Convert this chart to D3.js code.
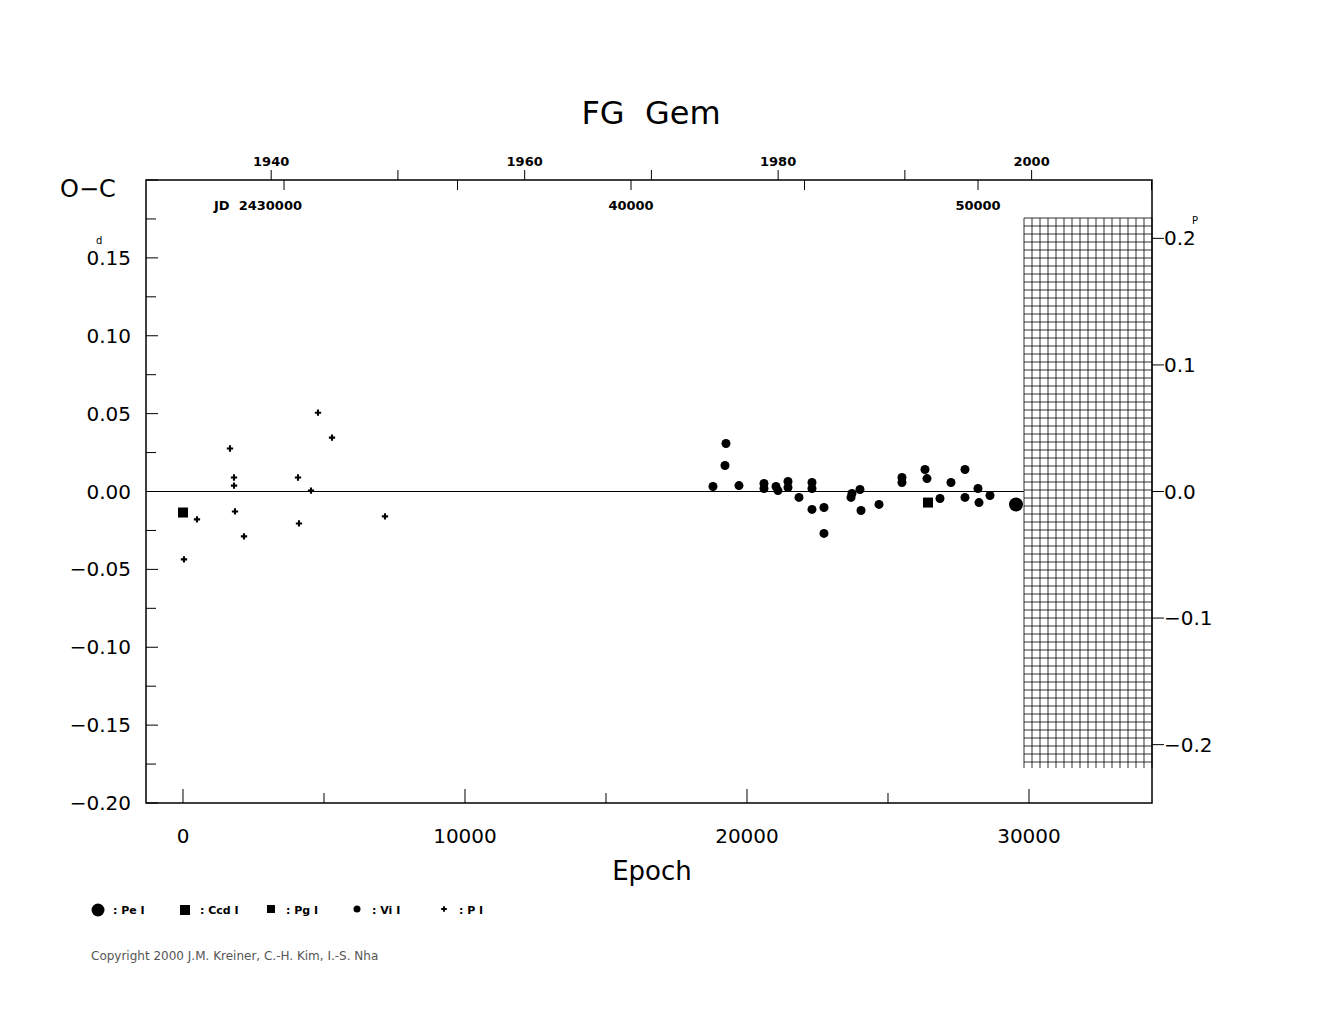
<!DOCTYPE html>
<html>
<head>
<meta charset="utf-8">
<script src="https://cdn.jsdelivr.net/npm/d3@7"></script>
<style>
  body { margin: 0; background: #fff; }
  text { font-family: "DejaVu Sans", sans-serif; fill: #000; }
</style>
</head>
<body>
<svg id="chart" width="1325" height="1020"></svg>
<script>
// O-C data for FG Gem: [epoch, O-C in days]
const plusP = [
  [4787, 0.0506], [5284, 0.0346], [1667, 0.0276], [1809, 0.0090], [1809, 0.0038],
  [4078, 0.0090], [4539, 0.0006], [1844, -0.0128], [496, -0.0179], [4113, -0.0205],
  [2163, -0.0288], [35, -0.0436], [7163, -0.0160]
];
const visual = [
  [18794, 0.0032], [19255, 0.0308], [19220, 0.0167], [19716, 0.0038],
  [20603, 0.0051], [20603, 0.0019], [21028, 0.0032], [21099, 0.0006],
  [21454, 0.0064], [21454, 0.0026], [21844, -0.0038], [22305, 0.0058],
  [22305, 0.0019], [22305, -0.0115], [22730, -0.0103], [22730, -0.0269],
  [23688, -0.0038], [23723, -0.0013], [24007, 0.0013], [24043, -0.0122],
  [24681, -0.0083], [25496, 0.0090], [25496, 0.0058], [26312, 0.0141],
  [26383, 0.0083], [26844, -0.0045], [27234, 0.0058], [27730, 0.0141],
  [27730, -0.0038], [28191, 0.0019], [28227, -0.0071], [28617, -0.0026]
];
const ccd = [[0, -0.0135], [26418, -0.0071]];
const pe = [[29539, -0.0083]];

const period = 0.8127;
const t0 = 27088;           // JD 2427088 (short form)
const yearTicks = [1940, 1950, 1960, 1970, 1980, 1990, 2000];
const yearLabels = [1940, 1960, 1980, 2000];
const jdTicks = [30000, 35000, 40000, 45000, 50000, 55000];
const legendItems = ["Pe I", "Ccd I", "Pg I", "Vi I", "P I"];

const svg = d3.select("#chart");
const L = 146, R = 1152, T = 180, B = 803;

const x = d3.scaleLinear().domain([-1312, 34362]).range([L, R]);
const y = d3.scaleLinear().domain([-0.2, 0.2]).range([B, T]);
const yPh = d3.scaleLinear().domain([-0.2 / period, 0.2 / period]).range([B, T]);
const jdX = d3.scaleLinear().domain([t0 - 1312 * period, t0 + 34362 * period]).range([L, R]);
// year from JD (JD 2429629.5 = 1940.0)
const yrToJd = yr => 29629.5 + (yr - 1940) * 365.25;

// title
svg.append("text").attr("x", 651).attr("y", 124).attr("text-anchor", "middle")
  .attr("font-size", 32).text("FG\u00a0\u00a0Gem");

// hatched future region
const hatch = svg.append("g");
const hx0 = 1024, hy0 = 218, hy1 = 768;
for (let xx = hx0; xx <= R; xx += 8)
  hatch.append("line").attr("x1", xx).attr("x2", xx).attr("y1", hy0).attr("y2", hy1).attr("stroke", "#000").attr("stroke-width", 0.8);
for (let yy = hy0; yy <= hy1; yy += 8)
  hatch.append("line").attr("x1", hx0).attr("x2", R).attr("y1", yy).attr("y2", yy).attr("stroke", "#000").attr("stroke-width", 0.8);

// frame
svg.append("rect").attr("x", L).attr("y", T).attr("width", R - L).attr("height", B - T)
  .attr("fill", "none").attr("stroke", "#000").attr("stroke-width", 1.5);

// zero line
svg.append("line").attr("x1", L).attr("x2", hx0).attr("y1", y(0)).attr("y2", y(0)).attr("stroke", "#000");

// left axis ticks
d3.range(-0.2, 0.2001, 0.025).forEach(v => {
  const major = Math.abs(Math.round(v * 1000) % 50) === 0;
  svg.append("line").attr("x1", L).attr("x2", L + (major ? 12 : 10))
    .attr("y1", y(v)).attr("y2", y(v)).attr("stroke", "#000");
});
[-0.2, -0.15, -0.1, -0.05, 0, 0.05, 0.1, 0.15].forEach(v => {
  svg.append("text").attr("x", 131).attr("y", y(v) + 7).attr("text-anchor", "end")
    .attr("font-size", 20).text((v < 0 ? "\u2212" : "") + Math.abs(v).toFixed(2));
  if (v === 0.15)
    svg.append("text").attr("x", 96).attr("y", y(v) - 14).attr("font-size", 10).text("d");
});
svg.append("text").attr("x", 60).attr("y", 197).attr("font-size", 24).text("O\u2212C");

// right axis (phase)
[-0.2, -0.1, 0, 0.1, 0.2].forEach(v => {
  svg.append("line").attr("x1", R).attr("x2", R + 12).attr("y1", yPh(v)).attr("y2", yPh(v)).attr("stroke", "#000");
  svg.append("text").attr("x", 1164).attr("y", yPh(v) + 7).attr("font-size", 20)
    .text((v < 0 ? "\u2212" : "") + Math.abs(v).toFixed(1));
});
svg.append("text").attr("x", 1192).attr("y", yPh(0.2) - 14).attr("font-size", 10).text("P");

// bottom axis (epoch)
d3.range(0, 34001, 5000).forEach(v => {
  const major = v % 10000 === 0;
  svg.append("line").attr("x1", x(v)).attr("x2", x(v)).attr("y1", B).attr("y2", B - (major ? 14 : 10)).attr("stroke", "#000");
  if (major)
    svg.append("text").attr("x", x(v)).attr("y", 843).attr("text-anchor", "middle").attr("font-size", 20).text(v);
});
svg.append("text").attr("x", 652).attr("y", 880).attr("text-anchor", "middle").attr("font-size", 26).text("Epoch");

// top axis: years above, JD below
yearTicks.forEach(yr => {
  const xx = jdX(yrToJd(yr));
  svg.append("line").attr("x1", xx).attr("x2", xx).attr("y1", T).attr("y2", T - 10).attr("stroke", "#000");
});
yearLabels.forEach(yr => {
  svg.append("text").attr("x", jdX(yrToJd(yr))).attr("y", 166).attr("text-anchor", "middle")
    .attr("font-size", 13).attr("font-weight", "bold").text(yr);
});
jdTicks.forEach(j => {
  const xx = jdX(j);
  if (xx > R) return;
  svg.append("line").attr("x1", xx).attr("x2", xx).attr("y1", T).attr("y2", T + 10).attr("stroke", "#000");
});
[[30000, "JD\u00a0\u00a02430000", 258], [40000, "40000", null], [50000, "50000", null]].forEach(([j, s, xo]) => {
  svg.append("text").attr("x", xo !== null ? xo : jdX(j)).attr("y", 210).attr("text-anchor", "middle")
    .attr("font-size", 13).attr("font-weight", "bold").text(s);
});

// data marks
const pts = svg.append("g");
plusP.forEach(([e, v]) => {
  pts.append("path").attr("d", d3.symbol(d3.symbolCross, 22)())
    .attr("transform", `translate(${x(e)},${y(v)})`).attr("fill", "#000");
});
visual.forEach(([e, v]) => {
  pts.append("circle").attr("cx", x(e)).attr("cy", y(v)).attr("r", 4.5).attr("fill", "#000");
});
ccd.forEach(([e, v]) => {
  pts.append("rect").attr("x", x(e) - 5).attr("y", y(v) - 5).attr("width", 10).attr("height", 10).attr("fill", "#000");
});
pe.forEach(([e, v]) => {
  pts.append("circle").attr("cx", x(e)).attr("cy", y(v)).attr("r", 7).attr("fill", "#000");
});

// legend
const lg = svg.append("g");
const lgX = [98, 185, 271, 357, 444];
legendItems.forEach((s, i) => {
  const cx = lgX[i], cy = 910;
  if (i === 0) lg.append("circle").attr("cx", cx).attr("cy", cy).attr("r", 6.5).attr("fill", "#000");
  if (i === 1) lg.append("rect").attr("x", cx - 5).attr("y", cy - 5).attr("width", 10).attr("height", 10).attr("fill", "#000");
  if (i === 2) lg.append("rect").attr("x", cx - 4).attr("y", cy - 5).attr("width", 8).attr("height", 8).attr("fill", "#000");
  if (i === 3) lg.append("circle").attr("cx", cx).attr("cy", cy - 1).attr("r", 3.5).attr("fill", "#000");
  if (i === 4) lg.append("path").attr("d", d3.symbol(d3.symbolCross, 18)()).attr("transform", `translate(${cx},${cy - 1})`).attr("fill", "#000");
  lg.append("text").attr("x", cx + 15).attr("y", cy + 4).attr("font-size", 11).attr("font-weight", "bold").text(": " + s);
});

svg.append("text").attr("x", 91).attr("y", 960).attr("font-size", 12).style("fill", "#555")
  .text("Copyright 2000 J.M. Kreiner, C.-H. Kim, I.-S. Nha");
</script>
</body>
</html>
